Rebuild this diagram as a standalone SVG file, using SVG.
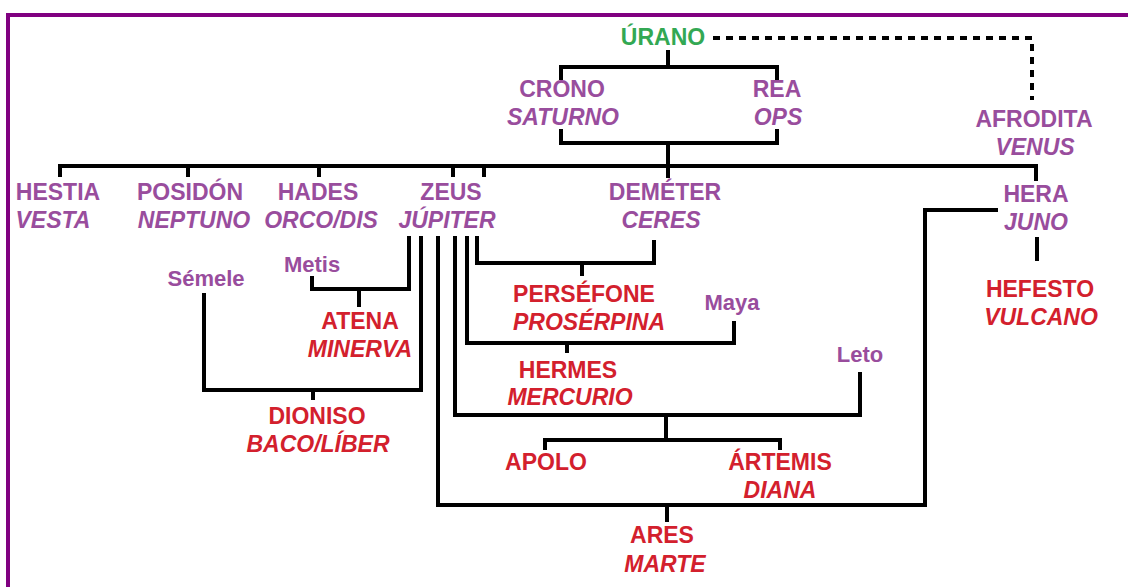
<svg xmlns="http://www.w3.org/2000/svg" width="1128" height="587" viewBox="0 0 1128 587">
<style>
text{font-family:"Liberation Sans",Arial,sans-serif;font-weight:bold;font-size:23px;text-anchor:middle}
.p{fill:#994d9d}
.r{fill:#d3202d}
.g{fill:#33a853}
.i{font-style:italic}
.s{font-size:22px}
.ln{fill:none;stroke:#000;stroke-width:4}
.dot{fill:none;stroke:#000;stroke-width:4;stroke-dasharray:7 6}
</style>
<rect x="0" y="0" width="1128" height="587" fill="#fff"/>
<rect x="8" y="15" width="1200" height="700" fill="none" stroke="#800080" stroke-width="4"/>
<g id="connectors">
<path class="dot" d="M713,38 H1032 V100"/>
<path class="ln" d="M668,50 V67 M561,80 V67 H777 V80"/>
<path class="ln" d="M561,129 V143 H777 V129 M668,143 V178"/>
<path class="ln" d="M60,177 V166 H1036 V181 M188,166 V177 M319,166 V177 M453,166 V177 M484,166 V177"/>
<path class="ln" d="M998,210 H925 V505 H438 V236 M667,505 V522"/>
<path class="ln" d="M1037,237 V261"/>
<path class="ln" d="M312,276 V289 H409 V236 M359,289 V307"/>
<path class="ln" d="M204,293 V390 H421 V236 M313,390 V400"/>
<path class="ln" d="M477,236 V263 H654 V240 M582,263 V276"/>
<path class="ln" d="M467,236 V343 H734 V321 M567,343 V353"/>
<path class="ln" d="M455,236 V415 H860 V372 M666,415 V440 M545,450 V440 H780 V450"/>
</g>
<g id="urano"><text class="g" x="663" y="45">ÚRANO</text></g>
<g id="crono"><text class="p" x="562" y="97">CRONO</text><text class="p i" x="563" y="125">SATURNO</text></g>
<g id="rea"><text class="p" x="777" y="97">REA</text><text class="p i" x="778" y="125">OPS</text></g>
<g id="afrodita"><text class="p" x="1034" y="127">AFRODITA</text><text class="p i" x="1035" y="155">VENUS</text></g>
<g id="hestia"><text class="p" x="58" y="200">HESTIA</text><text class="p i" x="53" y="228">VESTA</text></g>
<g id="posidon"><text class="p" x="190" y="200">POSIDÓN</text><text class="p i" x="194" y="228">NEPTUNO</text></g>
<g id="hades"><text class="p" x="318" y="200">HADES</text><text class="p i" x="321" y="228">ORCO/DIS</text></g>
<g id="zeus"><text class="p" x="451" y="200">ZEUS</text><text class="p i" x="447" y="228">JÚPITER</text></g>
<g id="demeter"><text class="p" x="665" y="200">DEMÉTER</text><text class="p i" x="661" y="228">CERES</text></g>
<g id="hera"><text class="p" x="1036" y="202">HERA</text><text class="p i" x="1036" y="230">JUNO</text></g>
<g id="hefesto"><text class="r" x="1040" y="297">HEFESTO</text><text class="r i" x="1041" y="325">VULCANO</text></g>
<g id="metis"><text class="p s" x="312" y="272">Metis</text></g>
<g id="semele"><text class="p s" x="206" y="286">Sémele</text></g>
<g id="atena"><text class="r" x="360" y="329">ATENA</text><text class="r i" x="360" y="357">MINERVA</text></g>
<g id="persefone"><text class="r" x="584" y="302">PERSÉFONE</text><text class="r i" x="589" y="330">PROSÉRPINA</text></g>
<g id="maya"><text class="p s" x="732" y="310">Maya</text></g>
<g id="hermes"><text class="r" x="568" y="378">HERMES</text><text class="r i" x="570" y="405">MERCURIO</text></g>
<g id="leto"><text class="p s" x="860" y="362">Leto</text></g>
<g id="dioniso"><text class="r" x="317" y="424">DIONISO</text><text class="r i" x="318" y="452">BACO/LÍBER</text></g>
<g id="apolo"><text class="r" x="546" y="470">APOLO</text></g>
<g id="artemis"><text class="r" x="780" y="470">ÁRTEMIS</text><text class="r i" x="780" y="498">DIANA</text></g>
<g id="ares"><text class="r" x="662" y="543">ARES</text><text class="r i" x="665" y="572">MARTE</text></g>
</svg>
